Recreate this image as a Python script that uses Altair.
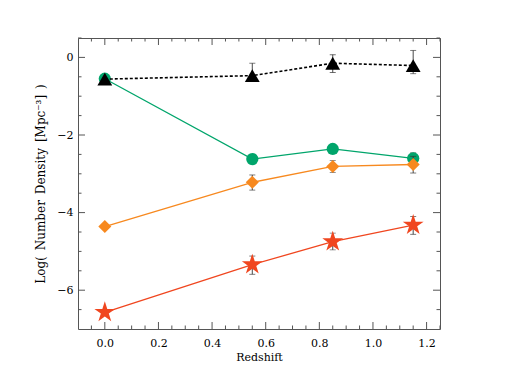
import altair as alt
import pandas as pd

# ---- data ----
redshift = [0.0, 0.55, 0.85, 1.15]

black_y  = [-0.56, -0.47, -0.15, -0.21]
black_lo = [-0.56, -0.60, -0.39, -0.42]
black_hi = [-0.56, -0.15, 0.07, 0.18]

green_y  = [-0.55, -2.62, -2.36, -2.60]
green_lo = [-0.55, -2.72, -2.46, -2.74]
green_hi = [-0.55, -2.52, -2.26, -2.46]

orange_y  = [-4.36, -3.22, -2.81, -2.76]
orange_lo = [-4.36, -3.42, -2.97, -2.98]
orange_hi = [-4.36, -3.03, -2.66, -2.55]

red_y  = [-6.57, -5.34, -4.75, -4.32]
red_lo = [-6.57, -5.59, -4.96, -4.56]
red_hi = [-6.57, -5.12, -4.53, -4.10]

x_major = [0.0, 0.2, 0.4, 0.6, 0.8, 1.0, 1.2]
x_minor = [-0.05, 0.05, 0.1, 0.15, 0.25, 0.3, 0.35, 0.45, 0.5, 0.55, 0.65, 0.7,
           0.75, 0.85, 0.9, 0.95, 1.05, 1.1, 1.15, 1.25]
y_major = [-6, -4, -2, 0]
y_minor = [-6.5, -5.5, -5, -4.5, -3.5, -3, -2.5, -1.5, -1, -0.5, 0.5]

W, H = 362, 291
FONT = "DejaVu Serif"
SP = "\u2002"

STAR = ("M0,-1L0.2245,-0.309L0.951,-0.309L0.363,0.118L0.588,0.809L0,0.382"
        "L-0.588,0.809L-0.363,0.118L-0.951,-0.309L-0.2245,-0.309Z")

series = [
    ("green", green_y, green_lo, green_hi, "#00a56b", "circle", 150, None),
    ("orange", orange_y, orange_lo, orange_hi, "#f7891f", "diamond", 170, None),
    ("red", red_y, red_lo, red_hi, "#f0461f", STAR, 480, None),
    ("black", black_y, black_lo, black_hi, "#000000", "triangle-up", 220, [3, 2]),
]

xs = alt.Scale(domain=[-0.1, 1.25], nice=False, zero=False)
ys = alt.Scale(domain=[-7, 0.5], nice=False, zero=False)

xax = alt.Axis(values=x_major, format=".1f", ticks=False, grid=False,
               labelPadding=8, title="Redshift", titlePadding=3)
yax = alt.Axis(values=y_major, format="d", ticks=False, grid=False,
               labelPadding=5,
               title=f"Log({SP}Number{SP}Density{SP}[Mpc⁻³]{SP})",
               titleFontSize=12, titlePadding=9)


def X(f):
    return alt.X(f, scale=xs, axis=xax)


def Y(f):
    return alt.Y(f, scale=ys, axis=yax)


layers = []
for name, yv, lo, hi, col, shape, size, dash in series:
    df = pd.DataFrame({"z": redshift, "y": yv, "lo": lo, "hi": hi})
    base = alt.Chart(df)
    line_kw = dict(color=col, strokeWidth=1.3)
    if dash:
        line_kw["strokeDash"] = dash
        line_kw["strokeWidth"] = 1.6
    layers.append(base.mark_line(**line_kw).encode(x=X("z:Q"), y=Y("y:Q")))
    err = base.transform_filter("datum.hi > datum.lo")
    layers.append(err.mark_rule(color="#333333", strokeWidth=0.9).encode(
        x=X("z:Q"), y=Y("lo:Q"), y2="hi:Q"))
    for f in ["lo", "hi"]:
        layers.append(err.mark_tick(color="#333333", orient="horizontal", size=6, thickness=0.9).encode(
            x=X("z:Q"), y=Y(f + ":Q")))
    layers.append(base.mark_point(shape=shape, size=size, filled=True, color=col, opacity=1).encode(
        x=X("z:Q"), y=Y("y:Q")))


# inward box ticks
def xticks(vals, L):
    c = alt.Chart(pd.DataFrame({"v": vals}))
    return [
        c.mark_rule(color="#555555", strokeWidth=1).encode(
            x=X("v:Q"), y=alt.value(H), y2=alt.value(H - L)),
        c.mark_rule(color="#555555", strokeWidth=1).encode(
            x=X("v:Q"), y=alt.value(0), y2=alt.value(L)),
    ]


def yticks(vals, L):
    c = alt.Chart(pd.DataFrame({"v": vals}))
    return [
        c.mark_rule(color="#555555", strokeWidth=1).encode(
            y=Y("v:Q"), x=alt.value(0), x2=alt.value(L)),
        c.mark_rule(color="#555555", strokeWidth=1).encode(
            y=Y("v:Q"), x=alt.value(W), x2=alt.value(W - L)),
    ]


tick_layers = xticks(x_major, 7) + xticks(x_minor, 3.5) + yticks(y_major, 7) + yticks(y_minor, 3.5)

chart = alt.layer(*(layers + tick_layers)).properties(
    width=W, height=H,
    autosize=alt.AutoSizeParams(type="none"),
    padding={"left": 70, "top": 30, "right": 70, "bottom": 51},
).configure_view(
    stroke="#555555", strokeWidth=1
).configure_axis(
    domain=False,
    labelFont=FONT, titleFont=FONT, labelFontSize=11, titleFontSize=11,
    titleFontWeight="normal", labelColor="#000000", titleColor="#000000",
)

chart.save("out.html", embed_options={"renderer": "svg", "actions": False})
